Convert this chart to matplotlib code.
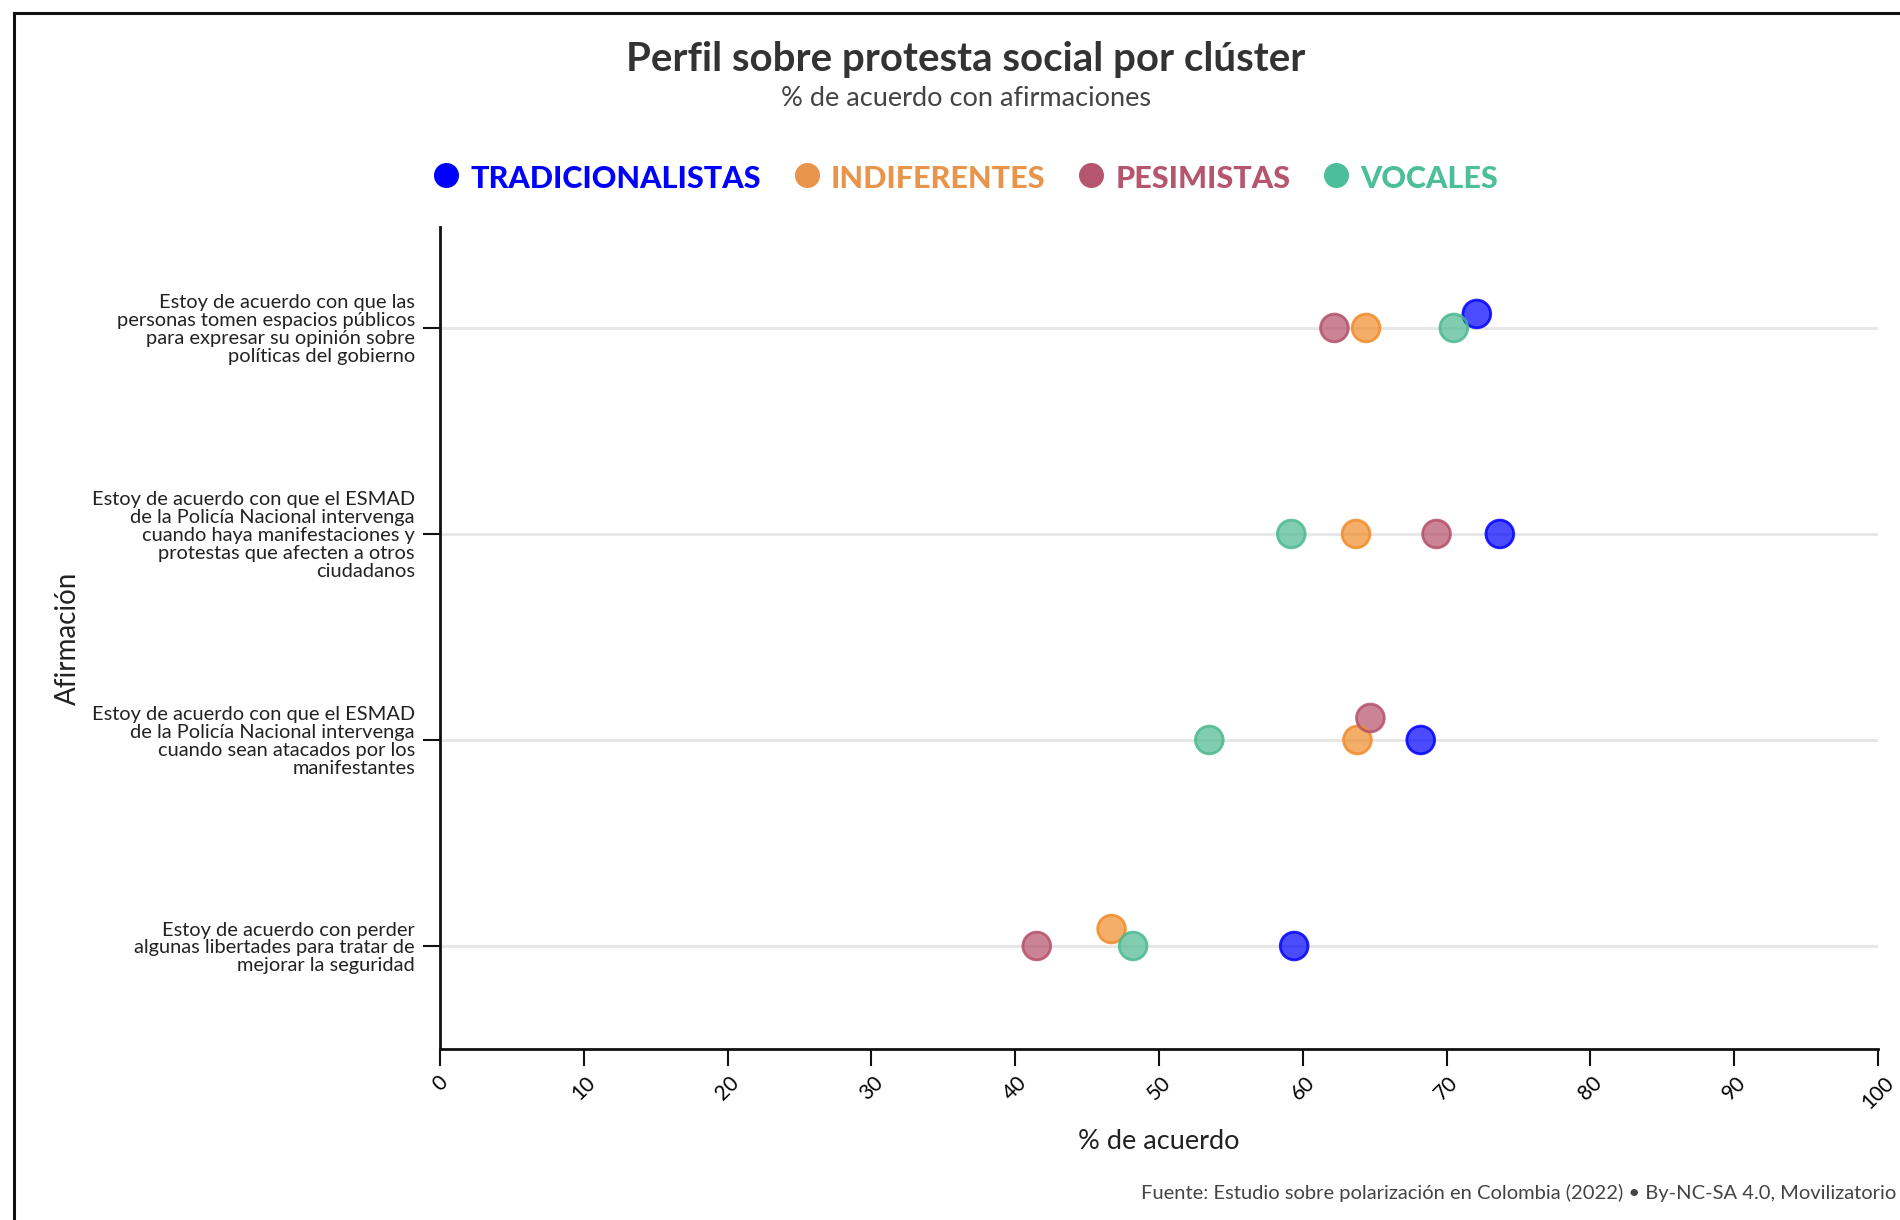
import matplotlib
matplotlib.use("Agg")
from matplotlib import pyplot as plt
from matplotlib.lines import Line2D
import numpy as np

# data
afirmaciones = [
    "Estoy de acuerdo con que las\npersonas tomen espacios públicos\npara expresar su opinión sobre\npolíticas del gobierno",
    "Estoy de acuerdo con que el ESMAD\nde la Policía Nacional intervenga\ncuando haya manifestaciones y\nprotestas que afecten a otros\nciudadanos",
    "Estoy de acuerdo con que el ESMAD\nde la Policía Nacional intervenga\ncuando sean atacados por los\nmanifestantes",
    "Estoy de acuerdo con perder\nalgunas libertades para tratar de\nmejorar la seguridad",
]
clusters = ["TRADICIONALISTAS", "INDIFERENTES", "PESIMISTAS", "VOCALES"]
tradicionalistas = [72.1, 73.7, 68.2, 59.4]
indiferentes = [64.4, 63.7, 63.8, 46.7]
pesimistas = [62.2, 69.3, 64.7, 41.5]
vocales = [70.5, 59.2, 53.5, 48.2]
x_ticks = [0, 10, 20, 30, 40, 50, 60, 70, 80, 90, 100]

valores = [tradicionalistas, indiferentes, pesimistas, vocales]
colores = ["#0000FF", "#F08C2A", "#B5506A", "#4CB990"]
legend_colores = ["#0000FF", "#E8944A", "#B5566E", "#4DBE9A"]

# points that were nudged up to avoid overlap (pixels)
dodge = {(0, 0): 14, (2, 2): 22, (1, 3): 17}

plt.rcParams["font.family"] = ["Lato", "DejaVu Sans"]

W, H = 1900, 1220
fig = plt.figure(figsize=(W / 100, H / 100), dpi=100)
ax = fig.add_axes([440 / W, 1 - 1049 / H, (1878 - 440) / W, (1049 - 227) / H])

ax.set_xlim(0, 100)
ax.set_ylim(3.5, -0.49)
px_per_unit = (1049 - 227) / 3.99

rows = np.arange(len(afirmaciones))
for r in rows:
    ax.axhline(r, color="#e6e6e6", lw=2, zorder=0)

for k, (vals, col) in enumerate(zip(valores, colores)):
    ys = np.array([r - dodge.get((k, r), 0) / px_per_unit for r in rows], dtype=float)
    ax.scatter(vals, ys, s=400, facecolor=col, alpha=0.7, edgecolor="none", zorder=3)
    ax.scatter(vals, ys, s=400, facecolor="none", edgecolor=col, linewidth=2, alpha=0.85, zorder=4)

ax.set_yticks(rows)
ax.set_yticklabels(afirmaciones, fontsize=14.4, color="#222222", linespacing=1.07)
ax.set_xticks(x_ticks)
ax.set_xticklabels([str(t) for t in x_ticks], rotation=45, ha="center", fontsize=15)
ax.tick_params(axis="both", length=12, width=1.5, color="#111111")
ax.tick_params(axis="y", pad=6)
ax.tick_params(axis="x", pad=5)

for s in ["top", "right"]:
    ax.spines[s].set_visible(False)
for s in ["left", "bottom"]:
    ax.spines[s].set_linewidth(2)
    ax.spines[s].set_color("#111111")

ax.set_xlabel("% de acuerdo", fontsize=19.5, color="#222222", labelpad=12)
fig.text(68 / W, 1 - 638 / H, "Afirmación", rotation=90, fontsize=20,
         color="#222222", ha="center", va="center")

cx = 966 / W
fig.text(cx, 1 - 60 / H, "Perfil sobre protesta social por clúster", fontsize=29,
         fontweight="bold", color="#333333", ha="center", va="center")
fig.text(cx, 1 - 99 / H, "% de acuerdo con afirmaciones", fontsize=19.5,
         color="#444444", ha="center", va="center")

# legend: colored dots + colored labels, centered
fig.canvas.draw()
renderer = fig.canvas.get_renderer()
ly = 1 - 179 / H
items = []
total = 0
for name, col in zip(clusters, legend_colores):
    t = fig.text(0, ly, name, fontsize=22, fontweight="black", color=col, ha="left", va="center")
    w = t.get_window_extent(renderer).width
    items.append((t, col, w))
    total += 24 + w
total += 46 * (len(items) - 1) + 12
x = 966 - total / 2 + 12
for t, col, w in items:
    fig.add_artist(Line2D([x / W], [ly + 4 / H], marker="o", markersize=17,
                          color=col, transform=fig.transFigure, linestyle="none"))
    t.set_x((x + 24) / W)
    x += 24 + w + 46

fig.text(1896 / W, 1 - 1193 / H,
         "Fuente: Estudio sobre polarización en Colombia (2022) • By-NC-SA 4.0, Movilizatorio",
         fontsize=14.5, color="#444444", ha="right", va="center")

# frame lines on left and top
fig.add_artist(Line2D([14 / W, 14 / W], [0, 1 - 13 / H], color="#111111", lw=2.2,
                      transform=fig.transFigure))
fig.add_artist(Line2D([14 / W, 1], [1 - 13 / H, 1 - 13 / H], color="#111111", lw=2.2,
                      transform=fig.transFigure))

fig.savefig("out.png", dpi=100, facecolor="white")
